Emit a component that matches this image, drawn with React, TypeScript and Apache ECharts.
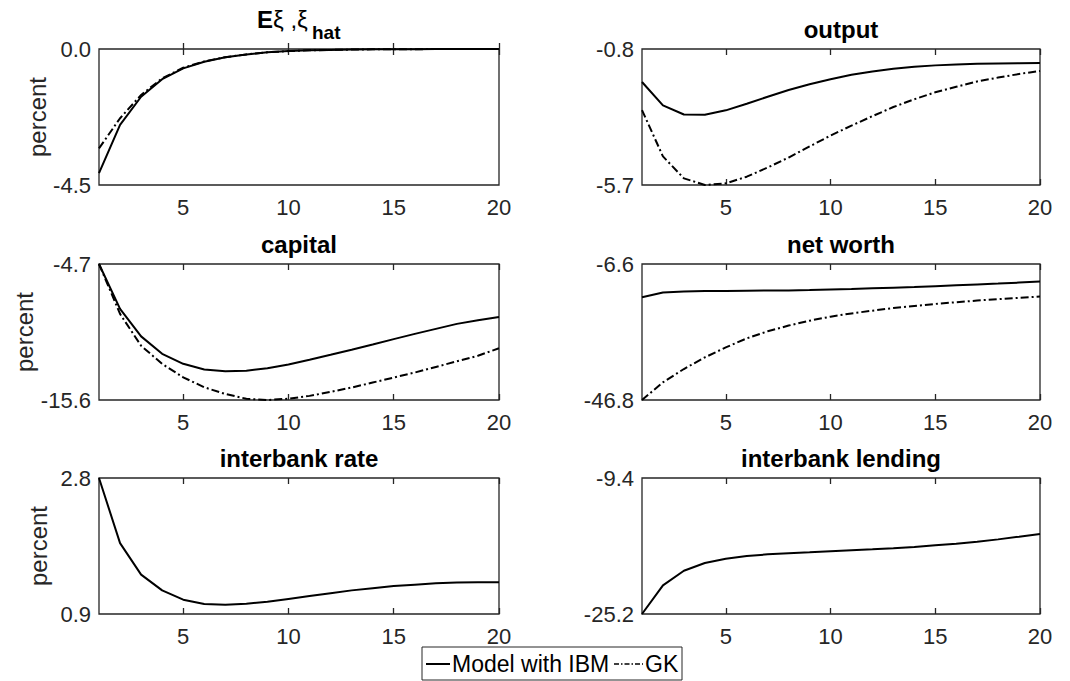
import React, { useEffect, useRef } from "react";
import * as echarts from "echarts";

const periods = [1, 2, 3, 4, 5, 6, 7, 8, 9, 10, 11, 12, 13, 14, 15, 16, 17, 18, 19, 20];
const xTickValues = [5, 10, 15, 20];

const xiIBM = [-4.11, -2.51, -1.58, -1.0, -0.64, -0.42, -0.27, -0.18, -0.11, -0.07, -0.045, -0.03, -0.02, -0.012, -0.008, -0.005, -0.003, -0.002, -0.001, -0.001];
const xiGK = [-3.29, -2.29, -1.52, -0.97, -0.62, -0.41, -0.27, -0.18, -0.11, -0.07, -0.045, -0.03, -0.02, -0.012, -0.008, -0.005, -0.003, -0.002, -0.001, -0.001];

const outputIBM = [-1.99, -2.83, -3.16, -3.17, -3.01, -2.77, -2.52, -2.28, -2.07, -1.89, -1.73, -1.61, -1.51, -1.44, -1.39, -1.36, -1.33, -1.32, -1.31, -1.3];
const outputGK = [-3.0, -4.67, -5.46, -5.7, -5.64, -5.4, -5.07, -4.71, -4.31, -3.92, -3.56, -3.22, -2.89, -2.61, -2.36, -2.16, -1.97, -1.83, -1.7, -1.59];

const capitalIBM = [-4.7, -8.3, -10.5, -11.9, -12.7, -13.15, -13.3, -13.25, -13.05, -12.75, -12.38, -11.98, -11.57, -11.15, -10.72, -10.3, -9.9, -9.5, -9.2, -8.95];
const capitalGK = [-4.7, -8.7, -11.25, -12.71, -13.78, -14.58, -15.12, -15.5, -15.6, -15.5, -15.27, -14.95, -14.6, -14.2, -13.8, -13.4, -12.95, -12.5, -12.05, -11.45];

const netWorthIBM = [-16.4, -15.0, -14.7, -14.6, -14.55, -14.5, -14.45, -14.4, -14.3, -14.15, -14.0, -13.8, -13.6, -13.4, -13.15, -12.9, -12.65, -12.4, -12.1, -11.8];
const netWorthGK = [-46.8, -41.58, -37.64, -34.2, -31.24, -28.58, -26.5, -24.8, -23.35, -22.17, -21.2, -20.4, -19.6, -19.0, -18.4, -17.9, -17.4, -17.0, -16.6, -16.2];

const rateIBM = [2.8, 1.89, 1.45, 1.23, 1.1, 1.04, 1.03, 1.044, 1.07, 1.11, 1.15, 1.19, 1.23, 1.26, 1.29, 1.31, 1.33, 1.34, 1.345, 1.345];
const lendingIBM = [-25.2, -21.87, -20.17, -19.28, -18.77, -18.46, -18.27, -18.15, -18.04, -17.92, -17.8, -17.69, -17.57, -17.42, -17.22, -17.03, -16.8, -16.53, -16.22, -15.9];

const panelTitles = ["", "output", "capital", "net worth", "interbank rate", "interbank lending"];
const panelMins = [-4.5, -5.7, -15.6, -46.8, 0.9, -25.2];
const panelMaxs = [0.0, -0.8, -4.7, -6.6, 2.8, -9.4];
const panelIBM = [xiIBM, outputIBM, capitalIBM, netWorthIBM, rateIBM, lendingIBM];
const panelGK = [xiGK, outputGK, capitalGK, netWorthGK, null, null];
const seriesNames = ["Model with IBM", "GK"];

const FONT = "'Liberation Sans', Arial, Helvetica, sans-serif";
const AXIS_COLOR = "#262626";

// layout
const colLeft = [99, 642];
const colWidth = [400, 398];
const rowTop = [49, 264, 478];
const plotH = 136;

export default function App() {
  const ref = useRef<HTMLDivElement>(null);

  useEffect(() => {
    if (!ref.current) return;
    const chart = echarts.init(ref.current, undefined, { renderer: "svg" });

    const grids: any[] = [];
    const xAxes: any[] = [];
    const yAxes: any[] = [];
    const series: any[] = [];
    const graphics: any[] = [];

    for (let i = 0; i < 6; i++) {
      const col = i % 2;
      const row = Math.floor(i / 2);
      const left = colLeft[col];
      const width = colWidth[col];
      const top = rowTop[row];
      grids.push({
        left,
        top,
        width,
        height: plotH,
        show: true,
        borderColor: AXIS_COLOR,
        borderWidth: 1.3,
        backgroundColor: "#fff",
      });
      const tickCommon = {
        show: true,
        inside: true,
        length: 6,
        customValues: xTickValues,
        lineStyle: { color: AXIS_COLOR, width: 1.3 },
      };
      xAxes.push({
        gridIndex: i,
        type: "value",
        min: 1,
        max: 20,
        position: "bottom",
        axisLine: { show: false },
        axisTick: tickCommon,
        axisLabel: {
          customValues: xTickValues,
          fontSize: 22,
          color: AXIS_COLOR,
          fontFamily: FONT,
          margin: 11,
        },
        splitLine: { show: false },
      });
      xAxes.push({
        gridIndex: i,
        type: "value",
        min: 1,
        max: 20,
        position: "top",
        axisLine: { show: false },
        axisTick: tickCommon,
        axisLabel: { show: false },
        splitLine: { show: false },
      });
      yAxes.push({
        gridIndex: i,
        type: "value",
        min: panelMins[i],
        max: panelMaxs[i],
        axisLine: { show: false },
        axisTick: { show: false },
        splitLine: { show: false },
        axisLabel: {
          customValues: [panelMins[i], panelMaxs[i]],
          formatter: (v: number) => v.toFixed(1),
          fontSize: 22,
          color: AXIS_COLOR,
          fontFamily: FONT,
          margin: 8,
        },
        name: col === 0 ? "percent" : "",
        nameLocation: "middle",
        nameRotate: 90,
        nameGap: 49,
        nameTextStyle: { fontSize: 24, color: AXIS_COLOR, fontFamily: FONT },
      });
      series.push({
        name: seriesNames[0],
        type: "line",
        xAxisIndex: 2 * i,
        yAxisIndex: i,
        data: periods.map((p, k) => [p, panelIBM[i][k]]),
        symbol: "none",
        lineStyle: { color: "#000", width: 2 },
        itemStyle: { color: "#000" },
      });
      const gk = panelGK[i];
      if (gk) {
        series.push({
          name: seriesNames[1],
          type: "line",
          xAxisIndex: 2 * i,
          yAxisIndex: i,
          data: periods.map((p, k) => [p, gk[k]]),
          symbol: "none",
          lineStyle: { color: "#000", width: 2, type: [8, 3, 2, 3] },
          itemStyle: { color: "#000" },
        });
      }
      if (panelTitles[i]) {
        graphics.push({
          type: "text",
          x: left + width / 2,
          y: top - 20,
          style: {
            text: panelTitles[i],
            fontSize: 24,
            fontWeight: "bold",
            fontFamily: FONT,
            fill: "#000",
            align: "center",
            verticalAlign: "middle",
          },
        });
      }
    }

    // First panel title: E xi , xi_hat
    graphics.push({
      type: "text",
      x: 257,
      y: 19,
      style: {
        text: "{e|E}{g|ξ ,ξ}",
        rich: {
          e: { fontSize: 24, fontWeight: "bold", fontFamily: FONT, fill: "#000" },
          g: { fontSize: 24, fontFamily: FONT, fill: "#000" },
        },
        align: "left",
        verticalAlign: "middle",
      },
    });
    graphics.push({
      type: "text",
      x: 312,
      y: 32,
      style: {
        text: "hat",
        fontSize: 19,
        fontWeight: "bold",
        fontFamily: FONT,
        fill: "#000",
        align: "left",
        verticalAlign: "middle",
      },
    });

    // Legend box
    const ly = 664;
    graphics.push({
      type: "rect",
      shape: { x: 422, y: 647, width: 260, height: 33 },
      style: { fill: "#fff", stroke: AXIS_COLOR, lineWidth: 1 },
    });
    graphics.push({
      type: "line",
      shape: { x1: 426, y1: ly, x2: 450, y2: ly },
      style: { stroke: "#000", lineWidth: 2 },
    });
    graphics.push({
      type: "text",
      x: 452,
      y: ly,
      style: {
        text: seriesNames[0],
        fontSize: 23,
        fontFamily: FONT,
        fill: "#000",
        align: "left",
        verticalAlign: "middle",
      },
    });
    graphics.push({
      type: "line",
      shape: { x1: 614, y1: ly, x2: 643, y2: ly },
      style: { stroke: "#000", lineWidth: 1.5, lineDash: [5, 2, 1.5, 2] },
    });
    graphics.push({
      type: "text",
      x: 645,
      y: ly,
      style: {
        text: seriesNames[1],
        fontSize: 23,
        fontFamily: FONT,
        fill: "#000",
        align: "left",
        verticalAlign: "middle",
      },
    });

    chart.setOption({
      animation: false,
      backgroundColor: "#fff",
      grid: grids,
      xAxis: xAxes,
      yAxis: yAxes,
      series,
      graphic: graphics,
    });

    return () => chart.dispose();
  }, []);

  return (
    <div
      ref={ref}
      style={{ position: "fixed", left: 0, top: 0, width: 1070, height: 681, background: "#fff" }}
    />
  );
}
